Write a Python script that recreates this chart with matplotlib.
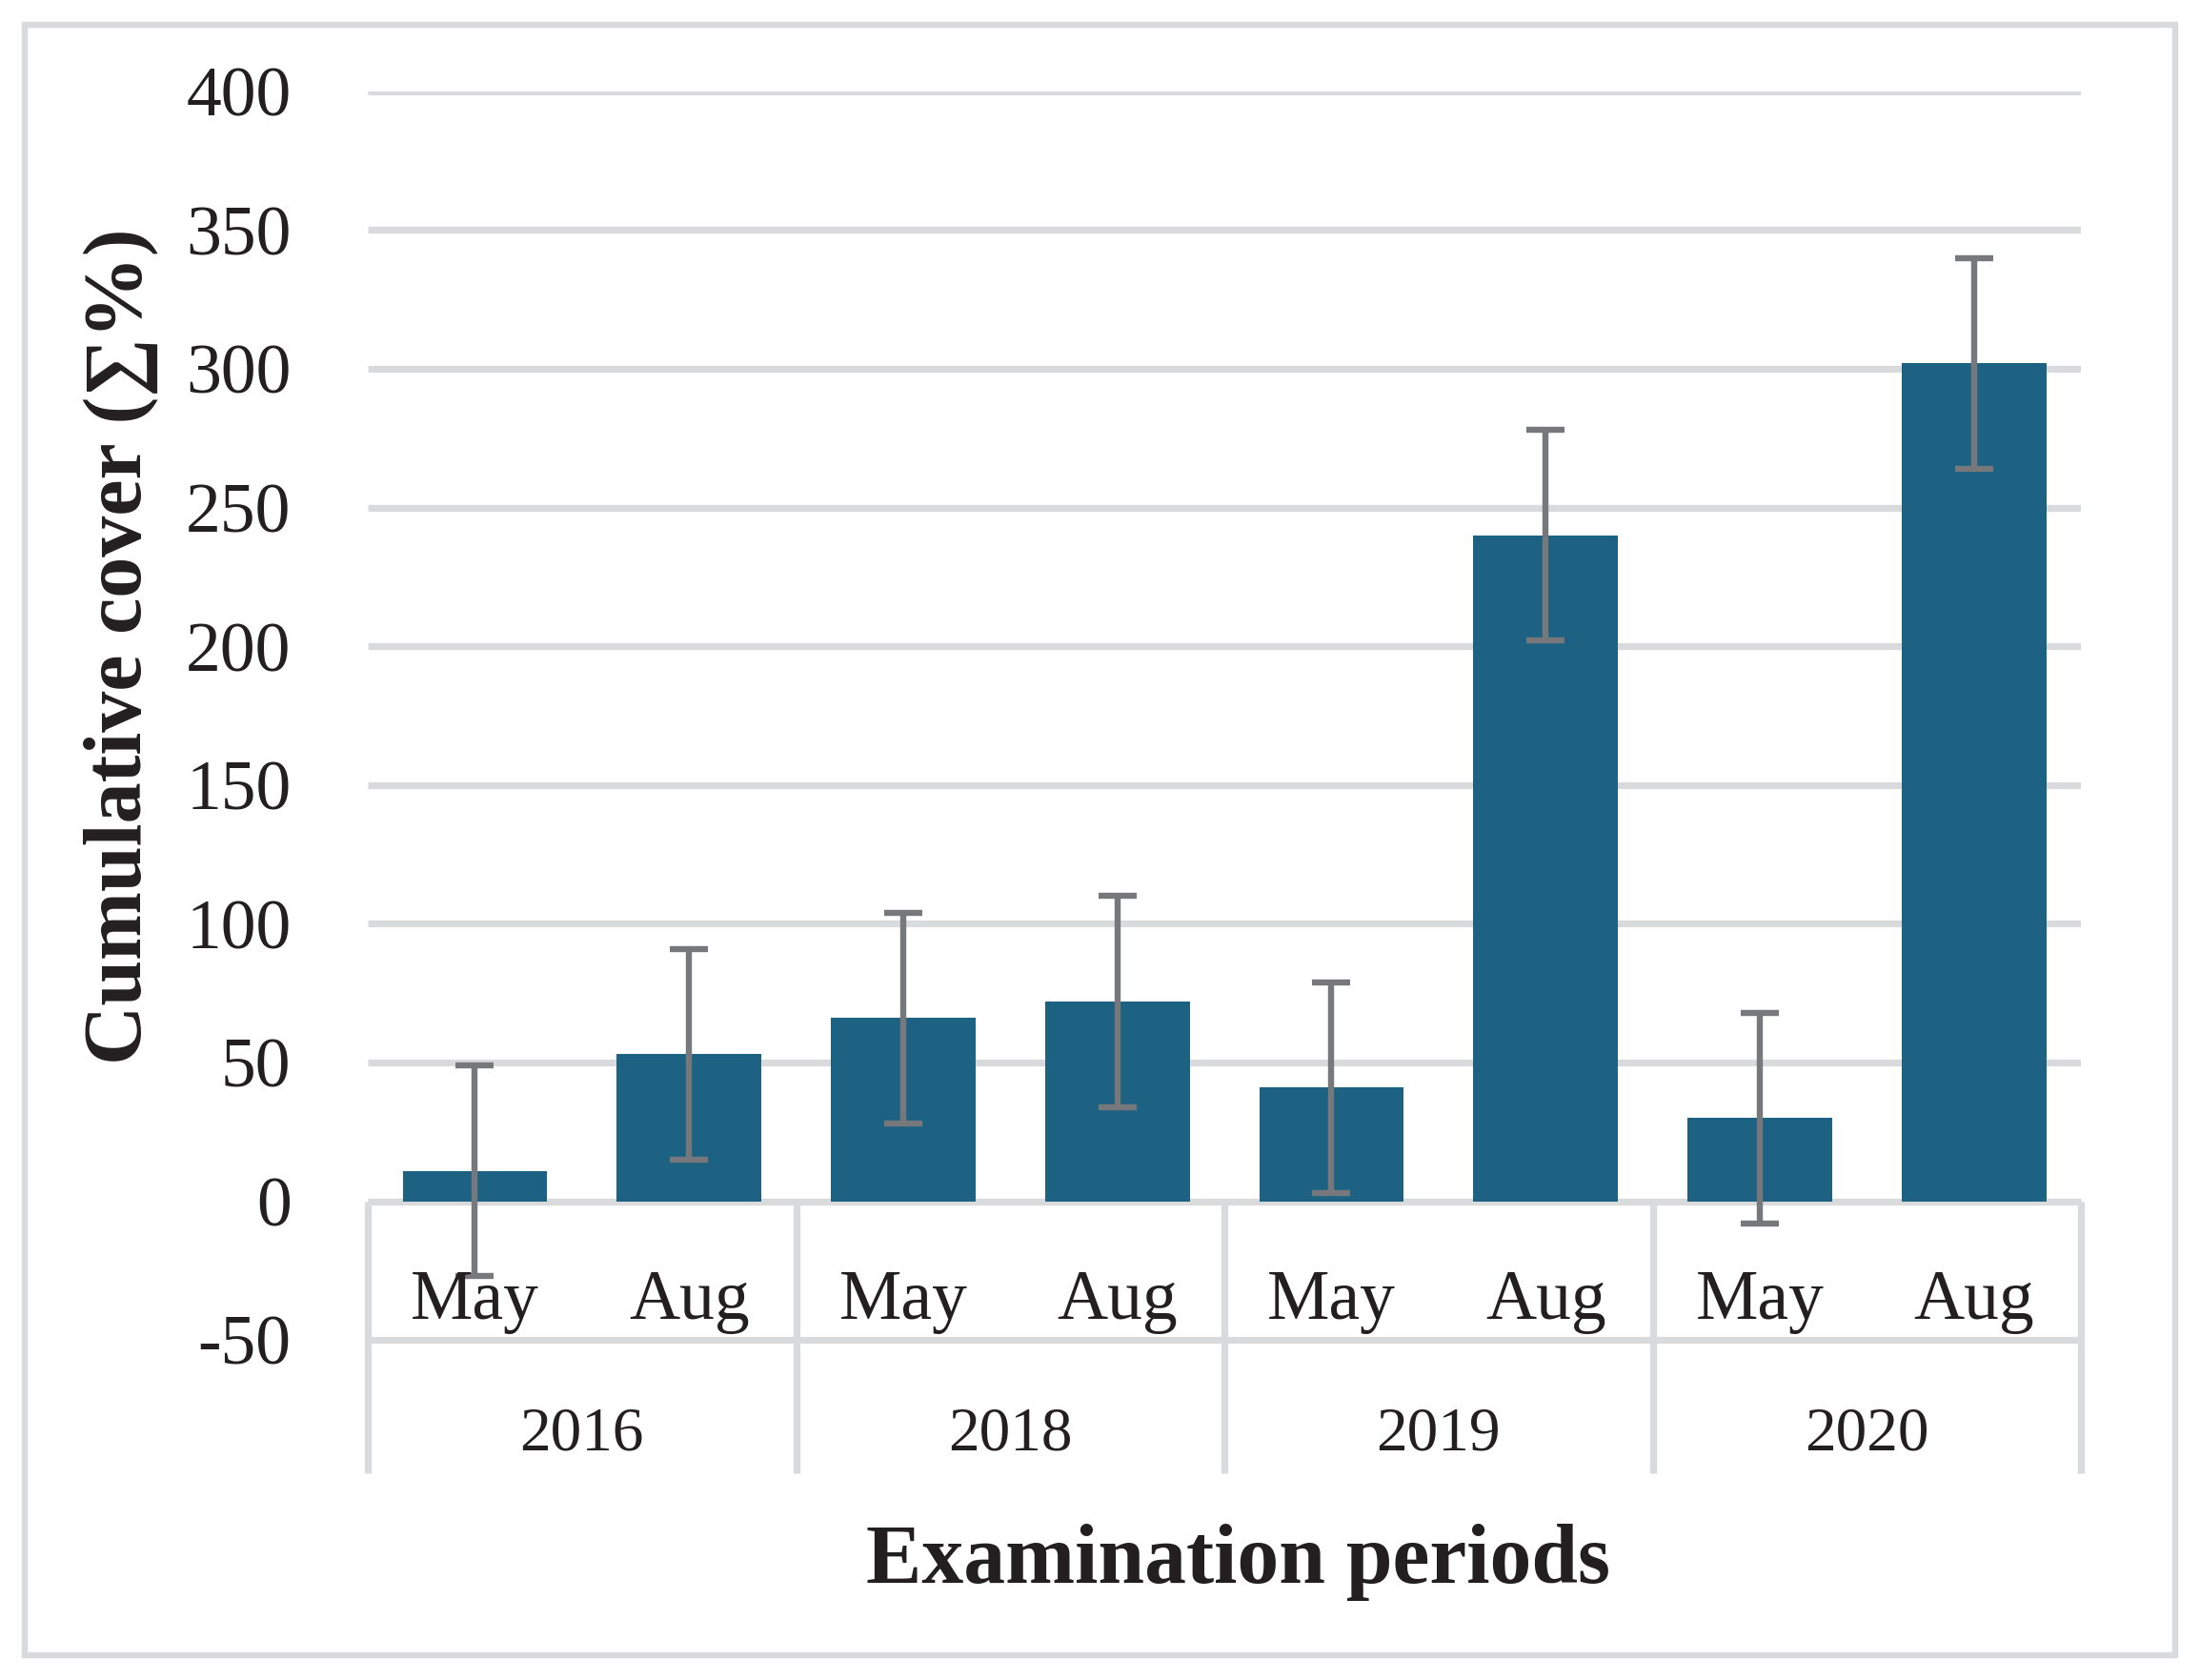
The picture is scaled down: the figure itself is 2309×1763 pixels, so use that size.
import numpy as np
import matplotlib.pyplot as plt
from matplotlib.patches import Rectangle

# data
years = ["2016", "2018", "2019", "2020"]
months = ["May", "Aug"]
cover = [11, 53, 66, 72, 41, 240, 30, 302]
err = [38, 38, 38, 38, 38, 38, 38, 38]
yticks = [-50, 0, 50, 100, 150, 200, 250, 300, 350, 400]

bar_c = "#1d6283"
err_c = "#77787b"
grid_c = "#d9dadb"
txt_c = "#231f20"

plt.rcParams["font.family"] = ["Liberation Serif", "DejaVu Serif"]

fig = plt.figure(figsize=(23.09, 17.63), dpi=100)
ax = fig.add_axes([0.1672, 0.1231, 0.9459 - 0.1672, 0.9456 - 0.1231])

x = np.arange(len(cover))
ybot = -98

# gridlines (0 is the axis line)
for v in yticks:
    if v > 0:
        ax.hlines(v, -0.5, 7.5, color=grid_c, lw=5.2, zorder=1)

# category table under the axis
ax.hlines([0, -50], -0.5, 7.5, color=grid_c, lw=5.2, zorder=1, clip_on=False)
ax.vlines([-0.5, 1.5, 3.5, 5.5, 7.5], ybot, 0, color=grid_c, lw=5.2, zorder=1, clip_on=False)

ax.bar(x, cover, width=0.675, color=bar_c, zorder=2)
ax.errorbar(x, cover, yerr=err, fmt="none", ecolor=err_c, elinewidth=4.6,
            capsize=14.7, capthick=4.6, zorder=3, clip_on=False)

for i in x:
    ax.text(i, -42.5, months[i % 2], ha="center", va="baseline",
            fontsize=53, color=txt_c)
for j, yr in enumerate(years):
    ax.text(2 * j + 0.5, -89.5, yr, ha="center", va="baseline",
            fontsize=47, color=txt_c)

ax.set_xlim(-0.5, 7.5)
ax.set_ylim(ybot, 400)
ax.set_xticks([])
ax.set_yticks(yticks)
ax.set_yticklabels([str(v) for v in yticks])
ax.tick_params(axis="y", length=0, pad=58, labelsize=53, labelcolor=txt_c)
for s in ax.spines.values():
    s.set_visible(False)

ax.set_ylabel("Cumulative cover (∑%)", fontsize=62, fontweight="bold", color=txt_c)
ax.yaxis.set_label_coords(-0.122, (200 - ybot) / (400 - ybot))

fig.text(0.5626, 0.0579, "Examination periods", ha="center", va="baseline",
         fontsize=63, fontweight="bold", color=txt_c)

# outer frame
fig.patches.append(Rectangle((26 / 2309, 26 / 1763), (2283 - 26) / 2309, (1737 - 26) / 1763,
                             transform=fig.transFigure, fill=False, ec=grid_c, lw=4.6))

fig.savefig("out.png", dpi=100)
